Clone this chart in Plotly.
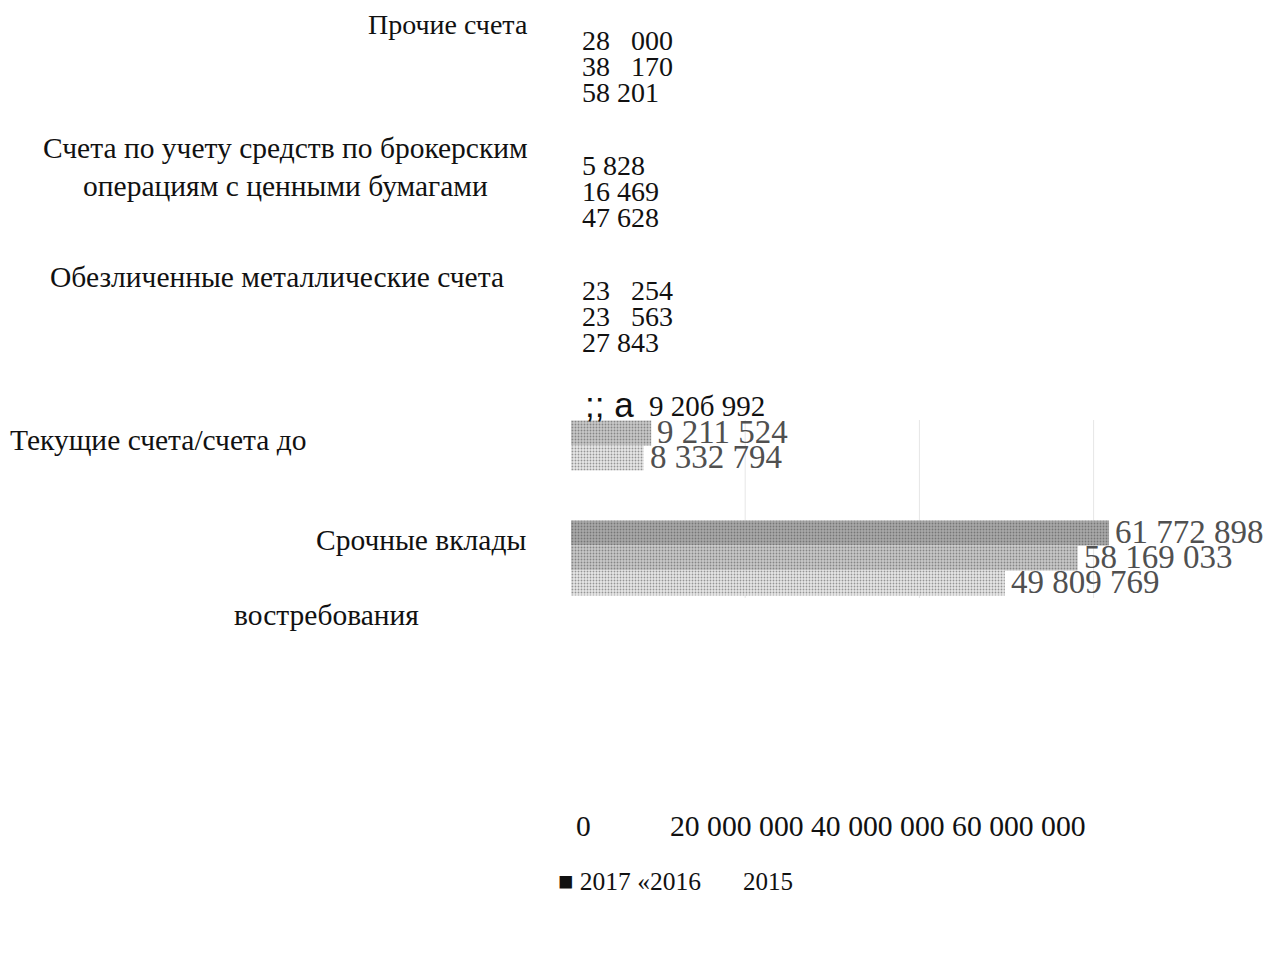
import plotly.graph_objects as go

# ---- data -------------------------------------------------------------
categories = [
    "Прочие счета",
    "Счета по учету средств по брокерским операциям с ценными бумагами",
    "Обезличенные металлические счета",
    "Текущие счета/счета до востребования",
    "Срочные вклады",
]
years = ["2017", "2016", "2015"]
values_2017 = [28000, 5828, 23254, 9206992, 61772898]
values_2016 = [38170, 16469, 23563, 9211524, 58169033]
values_2015 = [58201, 47628, 27843, 8332794, 49809769]
tick_values = [0, 20_000_000, 40_000_000, 60_000_000]
tick_labels = ["0", "20 000 000", "40 000 000", "60 000 000"]

series = [values_2017, values_2016, values_2015]

# ---- geometry / style -------------------------------------------------
W, H = 1266, 955
PLOT_LEFT = 571              # pixel position of the zero line
PX_PER_RUB = 8.71e-6         # horizontal scale, pixels per unit
ROW0, ROW_STEP = 58, 125     # pixel centre of the first category, spacing
X_MAX = (W - PLOT_LEFT) / PX_PER_RUB

SERIF = "Liberation Serif"
SANS = "Liberation Sans"
bar_colors = ["#a9a9a9", "#c8c8c8", "#e7e7e7"]
grain_colors = ["#8f8f8f", "#b2b2b2", "#d6d6d6"]
blank_bars = {(0, 3)}        # (series, category) drawn without fill
wide_gap = {(0, 0), (1, 0), (0, 2), (1, 2)}
SMALL_LIMIT = 1_000_000      # values below this are listed beside the axis


def px_to_paper_x(px):
    return (px - PLOT_LEFT) / (W - PLOT_LEFT)


def px_to_paper_y(py):
    return 1 - py / H


def fmt(v, wide=False):
    s = f"{v:,}"
    sep = "\u00a0\u00a0\u00a0" if wide else " "
    return s.replace(",", sep)


fig = go.Figure()

for i, (year, vals) in enumerate(zip(years, series)):
    # sub-pixel bars and the unfilled bar get no paint
    hidden = [(i, k) in blank_bars or v * PX_PER_RUB < 1 for k, v in enumerate(vals)]
    colors = ["rgba(0,0,0,0)" if h else bar_colors[i] for h in hidden]
    shapes = ["" if h else "." for h in hidden]
    fig.add_trace(
        go.Bar(
            y=categories,
            x=vals,
            name=year,
            orientation="h",
            marker=dict(
                color=colors,
                line=dict(width=0),
                pattern=dict(shape=shapes, fgcolor=grain_colors[i],
                             size=3, solidity=0.3),
            ),
            showlegend=False,
        )
    )

annotations = []

# value labels
for i, vals in enumerate(series):
    for k, v in enumerate(vals):
        if (i, k) in blank_bars:
            annotations.append(dict(
                x=v, y=categories[k], xref="x", yref="y",
                text=fmt(v).replace("6 9", "б 9"), showarrow=False,
                xanchor="left", yanchor="middle", xshift=-4,
                yshift=-25 * (i - 1) + 2,
                font=dict(family=SERIF, size=29, color="#111111"),
            ))
            annotations.append(dict(
                x=v, y=categories[k], xref="x", yref="y",
                text=";;\u00a0а", showarrow=False,
                xanchor="right", yanchor="middle", xshift=-15,
                yshift=-25 * (i - 1) + 4,
                font=dict(family=SANS, size=35, color="#111111"),
            ))
            continue
        if v < SMALL_LIMIT:
            annotations.append(dict(
                x=0, y=categories[k], xref="x", yref="y",
                text=fmt(v, (i, k) in wide_gap), showarrow=False,
                xanchor="left", yanchor="middle", xshift=9,
                yshift=-(26 * (i - 1) + 8),
                font=dict(family=SERIF, size=28, color="#111111"),
            ))
        else:
            annotations.append(dict(
                x=v, y=categories[k], xref="x", yref="y",
                text=fmt(v), showarrow=False,
                xanchor="left", yanchor="middle", xshift=4,
                yshift=-25 * (i - 1) + 1,
                font=dict(family=SERIF, size=33, color="#505050"),
            ))

# category captions
captions = [
    ("Прочие счета", 530, 25, "right", 28),
    ("Счета по учету средств по брокерским<br>операциям с ценными бумагами", 285, 167, "center", 29.5),
    ("Обезличенные металлические счета", 277, 277, "center", 29.5),
    ("Текущие счета/счета до", 8, 440, "left", 29.5),
    ("Срочные вклады", 528, 540, "right", 29.5),
    ("востребования", 326, 615, "center", 29.5),
]
for text, x, y, anchor, size in captions:
    annotations.append(dict(
        x=px_to_paper_x(x), y=px_to_paper_y(y), xref="paper", yref="paper",
        text=text, showarrow=False, xanchor=anchor, yanchor="middle",
        align="center", font=dict(family=SERIF, size=size, color="#111111"),
    ))

# axis numbers
annotations.append(dict(
    x=px_to_paper_x(583.5), y=px_to_paper_y(826), xref="paper", yref="paper",
    text=tick_labels[0], showarrow=False, xanchor="center", yanchor="middle",
    font=dict(family=SERIF, size=29.5, color="#111111"),
))
annotations.append(dict(
    x=px_to_paper_x(668), y=px_to_paper_y(826), xref="paper", yref="paper",
    text=" ".join(tick_labels[1:]), showarrow=False, xanchor="left", yanchor="middle",
    font=dict(family=SERIF, size=29.7, color="#111111"),
))

# legend line
annotations.append(dict(
    x=px_to_paper_x(556), y=px_to_paper_y(881), xref="paper", yref="paper",
    text="■ " + years[0] + " «" + years[1], showarrow=False,
    xanchor="left", yanchor="middle",
    font=dict(family=SERIF, size=25.5, color="#111111"),
))
annotations.append(dict(
    x=px_to_paper_x(741), y=px_to_paper_y(881), xref="paper", yref="paper",
    text=years[2], showarrow=False, xanchor="left", yanchor="middle",
    font=dict(family=SERIF, size=25, color="#111111"),
))

# faint vertical grid in the bar area
shapes = [
    dict(type="line", xref="x", yref="paper", x0=t, x1=t,
         y0=px_to_paper_y(598), y1=px_to_paper_y(420),
         line=dict(color="#e6e6e6", width=1), layer="below")
    for t in tick_values[1:]
]

fig.update_layout(
    width=W, height=H,
    margin=dict(l=PLOT_LEFT, r=0, t=0, b=0, pad=0),
    paper_bgcolor="white", plot_bgcolor="white",
    barmode="group", bargap=0.4, bargroupgap=0,
    xaxis=dict(range=[0, X_MAX], showgrid=False, zeroline=False,
               showticklabels=False, showline=False, fixedrange=True),
    yaxis=dict(type="category", categoryorder="array", categoryarray=categories,
               range=[(H - ROW0) / ROW_STEP, -ROW0 / ROW_STEP],
               showgrid=False, zeroline=False, showticklabels=False,
               showline=False, fixedrange=True),
    annotations=annotations,
    shapes=shapes,
    font=dict(family=SERIF),
)

fig.write_html("out.html")
